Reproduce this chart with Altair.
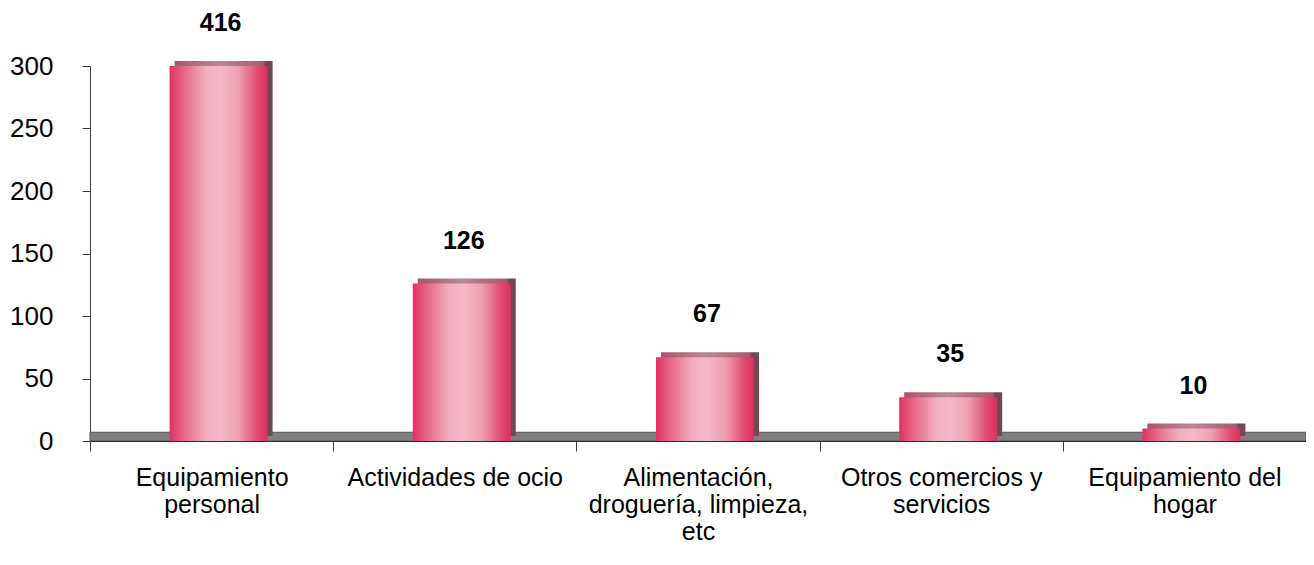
import altair as alt
import pandas as pd

categories = [
    "Equipamiento personal",
    "Actividades de ocio",
    "Alimentación, droguería, limpieza, etc",
    "Otros comercios y servicios",
    "Equipamiento del hogar",
]
values = [416, 126, 67, 35, 10]
label_lines = [
    ["Equipamiento", "personal"],
    ["Actividades de ocio"],
    ["Alimentación,", "droguería, limpieza,", "etc"],
    ["Otros comercios y", "servicios"],
    ["Equipamiento del", "hogar"],
]
y_ticks = [0, 50, 100, 150, 200, 250, 300]
y_max = 300
floor_depth = 7

df = pd.DataFrame({"cat": categories, "value": values})

FONT = "Liberation Sans"
W, H = 1216, 375

# labelExpr mapping category -> list of lines
parts = []
for c, lines in zip(categories, label_lines):
    arr = "[" + ",".join("'" + l + "'" for l in lines) + "]"
    parts.append(f"datum.value == '{c}' ? {arr}")
label_expr = " : ".join(parts) + " : datum.value"

x_enc = alt.X(
    "cat:N",
    sort=categories,
    scale=alt.Scale(paddingInner=0, paddingOuter=0),
    axis=alt.Axis(
        title=None,
        labelAngle=0,
        labelExpr=label_expr,
        labelFont=FONT,
        labelFontSize=25,
        labelColor="#000000",
        labelLineHeight=27,
        labelPadding=14,
        tickBand="extent",
        tickSize=10,
        tickColor="#404040",
        domainColor="#000000",
        labelLimit=400,
    ),
)
y_scale = alt.Scale(domain=[0, y_max], clamp=True, nice=False)
y_enc = alt.Y(
    "value:Q",
    scale=y_scale,
    axis=alt.Axis(
        title=None,
        values=y_ticks,
        grid=False,
        labelFont=FONT,
        labelFontSize=26,
        labelColor="#000000",
        labelPadding=29,
        tickSize=8,
        tickColor="#404040",
        domainColor="#404040",
    ),
)

base = alt.Chart(df)

floor = alt.Chart(pd.DataFrame({"a": [0]})).mark_rect(
    color="#808080", stroke="#555555", strokeWidth=1
).encode(
    x=alt.value(0),
    x2=alt.value(W),
    y=alt.datum(0, scale=y_scale),
    y2=alt.datum(floor_depth),
)

back = base.mark_bar(
    width=98,
    xOffset=12,
    yOffset=-5,
    color=alt.Gradient(
        gradient="linear",
        x1=0, x2=1, y1=0, y2=0,
        stops=[
            alt.GradientStop(color="#a8546c", offset=0),
            alt.GradientStop(color="#b88894", offset=0.45),
            alt.GradientStop(color="#a85a70", offset=0.9),
            alt.GradientStop(color="#6e4a56", offset=0.93),
            alt.GradientStop(color="#6e4a56", offset=1),
        ],
    ),
).encode(x=x_enc, y=y_enc)

front = base.mark_bar(
    width=98,
    xOffset=7,
    color=alt.Gradient(
        gradient="linear",
        x1=0, x2=1, y1=0, y2=0,
        stops=[
            alt.GradientStop(color="#de3262", offset=0),
            alt.GradientStop(color="#e6688a", offset=0.15),
            alt.GradientStop(color="#f2b0c2", offset=0.38),
            alt.GradientStop(color="#f4b8c8", offset=0.52),
            alt.GradientStop(color="#eea0b4", offset=0.7),
            alt.GradientStop(color="#e04a74", offset=0.9),
            alt.GradientStop(color="#dc2e5c", offset=1),
        ],
    ),
).encode(x=x_enc, y=y_enc)

labels = base.transform_calculate(
    yv=f"min(datum.value, {y_max})"
).mark_text(
    font=FONT, fontSize=25, fontWeight="bold", color="#000000",
    dy=-43, xOffset=9, baseline="middle",
).encode(
    x=alt.X("cat:N", sort=categories),
    y=alt.Y("yv:Q", scale=y_scale),
    text=alt.Text("value:Q"),
)

chart = alt.layer(floor, back, front, labels).properties(
    width=W,
    height=H,
    autosize=alt.AutoSizeParams(type="none"),
    padding={"left": 82, "top": 58, "right": 0, "bottom": 116},
).configure_view(stroke=None)

chart.save("out.html", embed_options={"renderer": "svg", "actions": False})
